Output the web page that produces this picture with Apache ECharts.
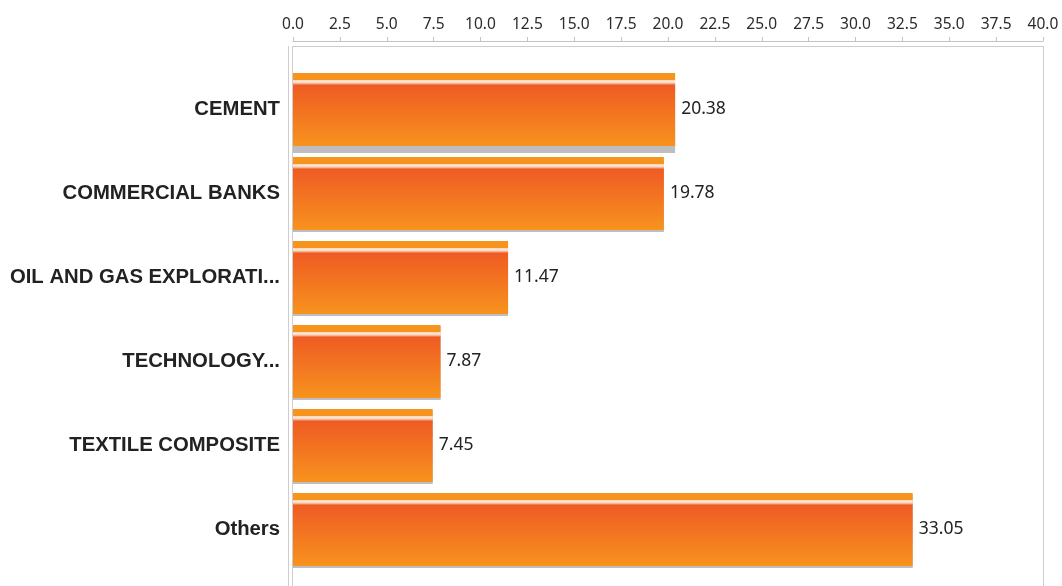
<!DOCTYPE html>
<html>
<head>
<meta charset="utf-8">
<script src="https://cdn.jsdelivr.net/npm/echarts@6/dist/echarts.min.js"></script>
<style>
  html, body { margin: 0; padding: 0; background: #ffffff; }
  #chart { width: 1062px; height: 586px; }
</style>
</head>
<body>
<div id="chart"></div>
<script>
// Sector weights (%)
const sectors = ['CEMENT', 'COMMERCIAL BANKS', 'OIL AND GAS EXPLORATI...', 'TECHNOLOGY...', 'TEXTILE COMPOSITE', 'Others'];
const weights = [20.38, 19.78, 11.47, 7.87, 7.45, 33.05];
const axisMin = 0;
const axisMax = 40;
const axisStep = 2.5;

// Glossy orange fill: flat top band, thin highlight, then red-orange fading to orange
const barFill = new echarts.graphic.LinearGradient(0, 0, 0, 1, [
  { offset: 0, color: '#F7941E' },
  { offset: 0.095, color: '#F7941E' },
  { offset: 0.10, color: '#FCD9BC' },
  { offset: 0.125, color: '#FFEBD9' },
  { offset: 0.15, color: '#F4A07C' },
  { offset: 0.165, color: '#EF5B23' },
  { offset: 1, color: '#F7931E' }
]);

const seriesData = weights.map(function (v, i) {
  return {
    value: v,
    itemStyle: {
      color: barFill,
      shadowColor: '#BDBDC2',
      shadowBlur: 0,
      shadowOffsetX: 0,
      shadowOffsetY: i === 0 ? 7 : 2
    }
  };
});

const chart = echarts.init(document.getElementById('chart'), null, { renderer: 'canvas' });

const frameColor = '#CDCDCD';

chart.setOption({
  animation: false,
  backgroundColor: '#ffffff',
  grid: { left: 293, right: 19, top: 67.5, height: 504, containLabel: false },
  xAxis: {
    type: 'value',
    position: 'top',
    offset: 26.5,
    min: axisMin,
    max: axisMax,
    interval: axisStep,
    axisLine: { show: true, lineStyle: { color: '#C4C4C4', width: 1 } },
    axisTick: { show: true, length: 4, lineStyle: { color: '#C4C4C4' } },
    axisLabel: {
      margin: 8,
      color: '#2b2b2b',
      fontFamily: 'Noto Sans',
      fontSize: 15.5,
      formatter: function (v) { return v.toFixed(1); }
    },
    splitLine: { show: false }
  },
  yAxis: {
    type: 'category',
    inverse: true,
    data: sectors,
    axisLine: { show: false },
    axisTick: { show: false },
    axisLabel: {
      margin: 13,
      color: '#222222',
      fontFamily: 'Liberation Sans',
      fontWeight: 'bold',
      fontSize: 20.3
    }
  },
  series: [{
    type: 'bar',
    barWidth: 73,
    data: seriesData,
    label: {
      show: true,
      position: 'right',
      distance: 6,
      color: '#222222',
      fontFamily: 'Noto Sans',
      fontSize: 17.5,
      formatter: function (p) { return p.value.toFixed(2); }
    }
  }],
  graphic: [
    // plot frame and double left rule
    { type: 'line', silent: true, shape: { x1: 288.5, y1: 46, x2: 288.5, y2: 586 }, style: { stroke: frameColor, lineWidth: 1 } },
    { type: 'line', silent: true, shape: { x1: 292.5, y1: 46, x2: 292.5, y2: 586 }, style: { stroke: frameColor, lineWidth: 1 } },
    { type: 'line', silent: true, shape: { x1: 292.5, y1: 46.5, x2: 1043.5, y2: 46.5 }, style: { stroke: frameColor, lineWidth: 1 } },
    { type: 'line', silent: true, shape: { x1: 1043.5, y1: 46, x2: 1043.5, y2: 586 }, style: { stroke: frameColor, lineWidth: 1 } }
  ]
});
</script>
</body>
</html>
